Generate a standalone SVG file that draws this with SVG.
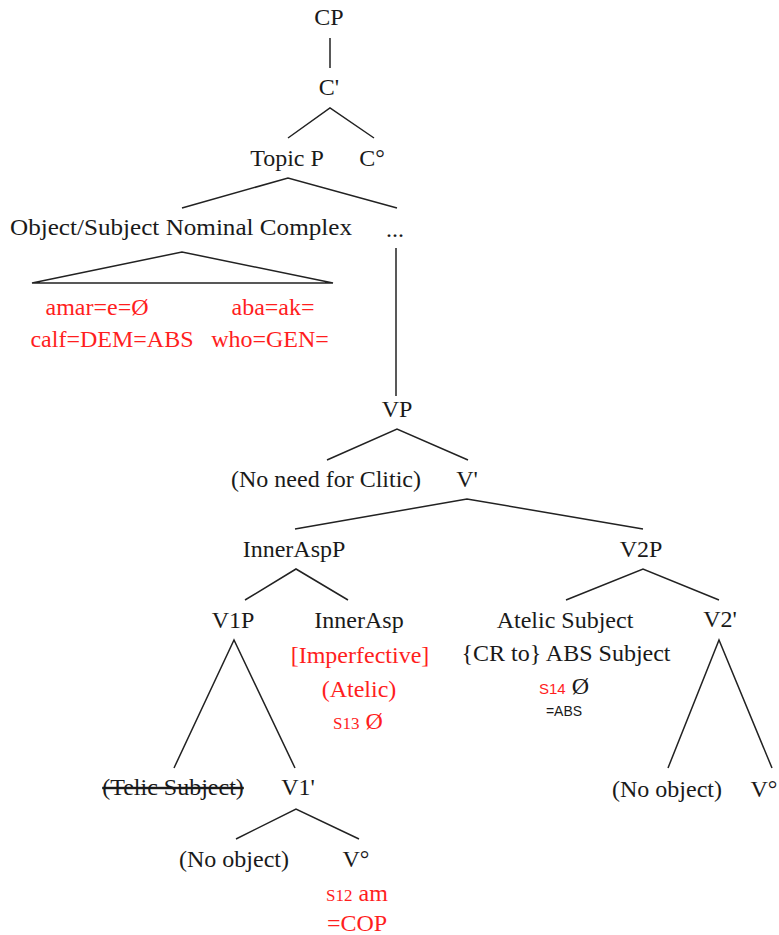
<svg xmlns="http://www.w3.org/2000/svg" width="779" height="935" viewBox="0 0 779 935">
<style>
  text { font-family: "Liberation Serif", "DejaVu Serif", serif; font-size: 24px; fill: #1a1a1a; text-anchor: middle; }
  .red { fill: #ff1e1e; }
  .sm { font-size: 17px; }
  .sm-sans { font-family: "Liberation Sans", "DejaVu Sans", sans-serif; font-size: 15px; }
  .sans { font-family: "Liberation Sans", "DejaVu Sans", sans-serif; font-size: 14px; fill: #1a1a1a; }
  .strike { text-decoration: line-through; }
  #connectors line, #connectors polyline, #connectors polygon { stroke: #222; stroke-width: 1.5; fill: none; }
</style>
<rect width="779" height="935" fill="#fff"/>

<g id="connectors">
  <line x1="330" y1="38" x2="330" y2="68"/>
  <polyline points="288,138 330,108 374,138"/>
  <polyline points="182,208 288,178 397,208"/>
  <polygon points="32,283 182,252 333,283"/>
  <line x1="396" y1="248" x2="396" y2="396"/>
  <polyline points="327,460 397,429 468,460"/>
  <polyline points="295,529 467,499 643,529"/>
  <polyline points="245,600 296,569 348,600"/>
  <polyline points="566,600 643,569 719,600"/>
  <polyline points="174,768 234,640 295,768"/>
  <polyline points="668,768 719,640 772,768"/>
  <polyline points="236,839 296,809 359,839"/>
</g>

<g id="cp"><text x="329" y="25">CP</text></g>
<g id="cbar"><text x="329" y="95">C'</text></g>
<g id="topicp"><text x="287" y="166">Topic P</text></g>
<g id="c0"><text x="372" y="166">C°</text></g>
<g id="nominal-complex"><text x="181" y="235" textLength="342" lengthAdjust="spacingAndGlyphs">Object/Subject Nominal Complex</text></g>
<g id="ellipsis"><text x="395" y="237">...</text></g>
<g id="nominal-forms">
  <text class="red" x="97" y="315">amar=e=Ø</text>
  <text class="red" x="273" y="315">aba=ak=</text>
  <text class="red" x="112" y="347">calf=DEM=ABS</text>
  <text class="red" x="270" y="347">who=GEN=</text>
</g>
<g id="vp"><text x="397" y="417">VP</text></g>
<g id="no-clitic"><text x="326" y="487">(No need for Clitic)</text></g>
<g id="vbar"><text x="467" y="487">V'</text></g>
<g id="inneraspp"><text x="294" y="557">InnerAspP</text></g>
<g id="v2p"><text x="641" y="557">V2P</text></g>
<g id="v1p"><text x="233" y="628">V1P</text></g>
<g id="innerasp">
  <text x="359" y="628">InnerAsp</text>
  <text class="red" x="360" y="663">[Imperfective]</text>
  <text class="red" x="359" y="697">(Atelic)</text>
  <text class="red" x="358" y="729"><tspan class="sm">S13</tspan> Ø</text>
</g>
<g id="atelic-subject">
  <text x="565" y="628">Atelic Subject</text>
  <text x="566" y="661">{CR to} ABS Subject</text>
  <text x="564" y="694"><tspan class="red sm-sans">S14</tspan> Ø</text>
  <text class="sans" x="564" y="716">=ABS</text>
</g>
<g id="v2bar"><text x="720" y="627">V2'</text></g>
<g id="telic-subject"><text class="strike" x="173" y="795">(Telic Subject)</text></g>
<g id="v1bar"><text x="298" y="795">V1'</text></g>
<g id="no-object-2"><text x="667" y="797">(No object)</text></g>
<g id="v0-2"><text x="764" y="797">V°</text></g>
<g id="no-object-1"><text x="234" y="867">(No object)</text></g>
<g id="v0-1">
  <text x="356" y="867">V°</text>
  <text class="red" x="357" y="901"><tspan class="sm">S12</tspan> am</text>
  <text class="red" x="357" y="931">=COP</text>
</g>
</svg>
